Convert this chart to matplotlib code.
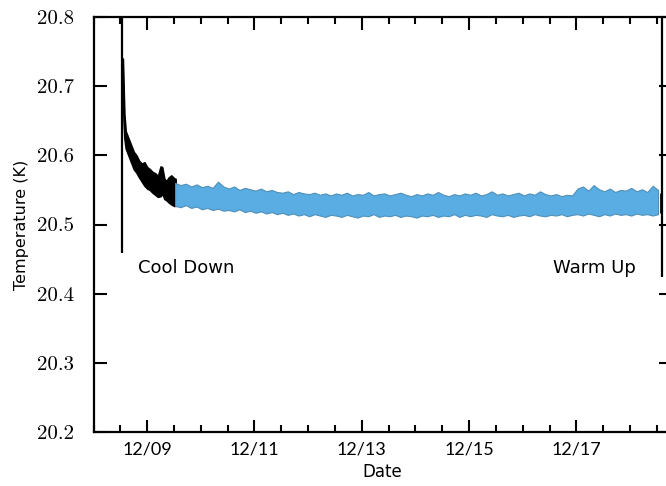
import datetime as dt
import matplotlib
matplotlib.use("Agg")
import matplotlib.pyplot as plt
import matplotlib.dates as mdates
import numpy as np

# day offsets are counted from 12/08 00:00
start = dt.datetime(2014, 12, 8)

# cool down trace (black)
cool_days = [0.545, 0.56, 0.575, 0.60, 0.65, 0.70, 0.75, 0.80, 0.85, 0.90, 0.95,
             1.00, 1.05, 1.10, 1.15, 1.20, 1.25, 1.28, 1.32, 1.36, 1.40, 1.45, 1.50, 1.53]
cool_hi = [20.74, 20.70, 20.66, 20.635, 20.625, 20.615, 20.605, 20.60, 20.592, 20.588, 20.590,
           20.583, 20.580, 20.576, 20.574, 20.570, 20.584, 20.583, 20.566, 20.563, 20.568,
           20.571, 20.567, 20.566]
cool_lo = [20.69, 20.65, 20.625, 20.61, 20.60, 20.59, 20.58, 20.575, 20.568, 20.562, 20.556,
           20.552, 20.550, 20.546, 20.543, 20.540, 20.541, 20.545, 20.537, 20.535, 20.532,
           20.529, 20.527, 20.527]

# steady state band (blue), sampled every 0.1 day from 12/09 12:30
steady_days = [1.52 + 0.1 * i for i in range(91)]
steady_hi_mk = [60, 57, 59, 55, 58, 54, 56, 53, 62, 55,
                52, 55, 50, 53, 51, 49, 52, 48, 50, 47,
                46, 48, 44, 47, 45, 44, 46, 43, 45, 42,
                45, 43, 46, 42, 44, 43, 47, 42, 44, 45,
                42, 44, 46, 43, 41, 44, 42, 45, 43, 47,
                43, 41, 44, 42, 45, 43, 46, 42, 44, 48,
                43, 45, 42, 44, 46, 42, 45, 43, 48, 44,
                42, 44, 41, 43, 42, 52, 55, 49, 57, 51,
                48, 52, 47, 50, 49, 53, 48, 51, 47, 56,
                50]
steady_lo_mk = [27, 25, 28, 24, 26, 22, 24, 21, 23, 20,
                21, 19, 22, 18, 20, 17, 19, 16, 18, 15,
                17, 14, 16, 13, 15, 12, 15, 13, 11, 14,
                13, 11, 14, 12, 10, 13, 12, 15, 11, 13,
                12, 14, 11, 13, 12, 10, 13, 12, 14, 11,
                13, 12, 15, 11, 14, 12, 14, 13, 11, 15,
                13, 12, 14, 11, 13, 14, 12, 15, 13, 12,
                14, 13, 15, 12, 14, 15, 13, 16, 14, 12,
                15, 13, 16, 14, 15, 13, 16, 14, 15, 13,
                15]

# vertical lines at start of cool down and warm up
cool_line = (0.53, 20.459)
warm_line = (10.59, 20.424)
warm_tail = [20.546, 20.516]

def to_dates(days):
    return [start + dt.timedelta(days=d) for d in days]

fig = plt.figure(figsize=(6.66, 4.86), dpi=100)
ax = fig.add_axes([0.1404, 0.111, 0.867, 0.854])

steady_hi = [20.5 + v / 1000 for v in steady_hi_mk]
steady_lo = [20.5 + v / 1000 for v in steady_lo_mk]

ax.fill_between(to_dates(cool_days), cool_lo, cool_hi, color="black", lw=1.2, edgecolor="black")
ax.fill_between(to_dates(steady_days), steady_lo, steady_hi, color="#5aade3",
                edgecolor="#4f8fb8", lw=0.8)
ax.vlines(to_dates([cool_line[0]]), cool_line[1], 20.82, color="black", lw=1.6)
ax.vlines(to_dates([warm_line[0]]), warm_line[1], 20.82, color="black", lw=1.6)
ax.vlines(to_dates([warm_line[0] - 0.02]), warm_tail[1], warm_tail[0], color="black", lw=2)

ax.text(to_dates([0.83])[0], 20.437, "Cool Down", fontsize=13, va="center", ha="left")
ax.text(to_dates([10.1])[0], 20.437, "Warm Up", fontsize=13, va="center", ha="right")

ax.set_xlim(start, start + dt.timedelta(days=10.76))
ax.set_ylim(20.2, 20.8)
ax.set_yticks(np.arange(20.2, 20.81, 0.1))
ax.set_yticklabels(["%.1f" % v for v in np.arange(20.2, 20.81, 0.1)], fontfamily="cmr10", fontsize=15)

ax.xaxis.set_major_locator(mdates.DayLocator(bymonthday=[9, 11, 13, 15, 17]))
ax.xaxis.set_minor_locator(mdates.HourLocator(byhour=[0, 12]))
ax.xaxis.set_major_formatter(mdates.DateFormatter("%m/%d"))
for lab in ax.get_xticklabels():
    lab.set_fontfamily("Lato")
    lab.set_fontsize(13)

ax.tick_params(which="both", direction="in", top=True, right=True, width=1.5)
ax.tick_params(which="major", length=9, pad=7)
ax.tick_params(which="minor", length=5)
ax.tick_params(axis="y", pad=14)
for s in ax.spines.values():
    s.set_linewidth(1.6)

ax.set_xlabel("Date", fontsize=12, labelpad=4)
ax.set_ylabel("Temperature (K)", fontsize=11.5, labelpad=6)

fig.savefig("out.png", dpi=100)
